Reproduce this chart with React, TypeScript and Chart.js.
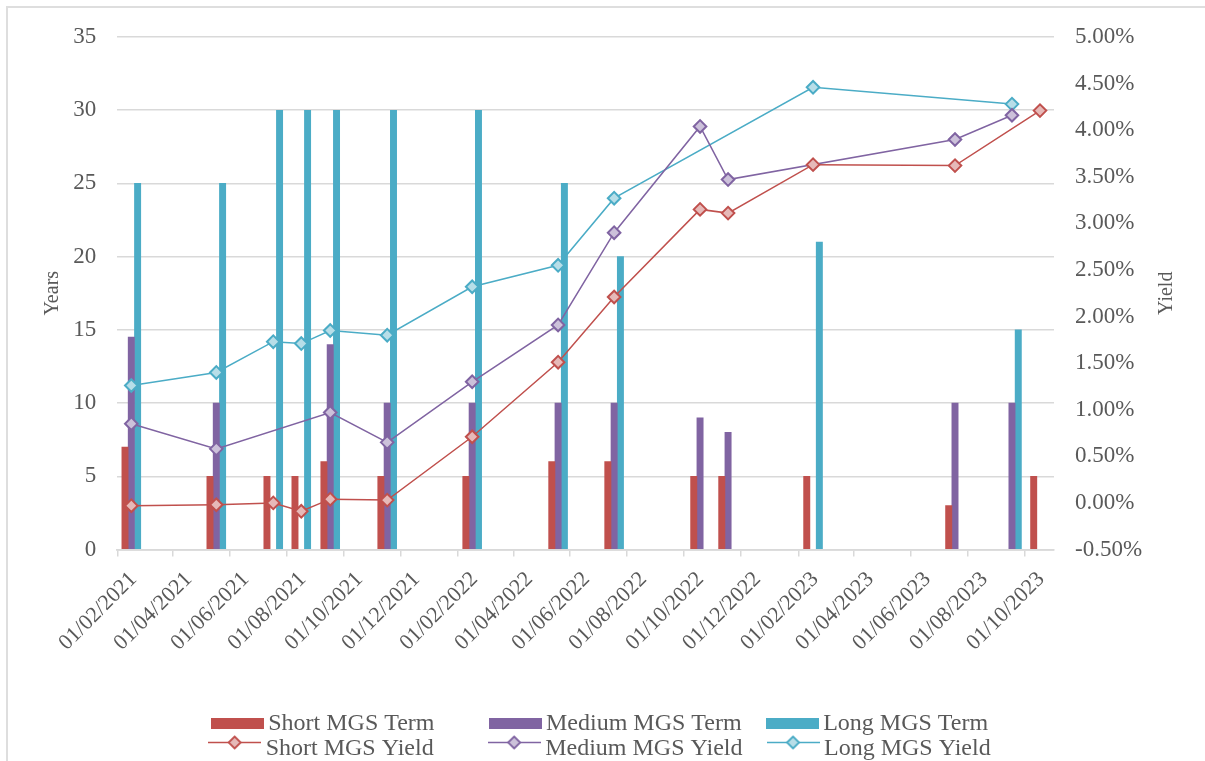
import React, { useEffect, useRef } from 'react';
import { Chart, registerables } from 'chart.js';

Chart.register(...registerables);

// ---------------- data ----------------
const auctionDates = [
  '2021-02-16', '2021-05-18', '2021-07-18', '2021-08-17', '2021-09-17',
  '2021-11-17', '2022-02-16', '2022-05-19', '2022-07-18', '2022-10-18',
  '2022-11-17', '2023-02-16', '2023-07-18', '2023-09-17', '2023-10-17',
];

// tenor in years
const shortTerm = [7, 5, 5, 5, 6, 5, 5, 6, 6, 5, 5, 5, 3, null, 5];
const mediumTerm = [14.5, 10, null, null, 14, 10, 10, 10, 10, 9, 8, null, 10, 10, null];
const longTerm = [25, 25, 30, 30, 30, 30, 30, 25, 20, null, null, 21, null, 15, null];

// yield in %
const shortYield = [-0.03, -0.02, 0.0, -0.09, 0.04, 0.03, 0.71, 1.51, 2.21, 3.15, 3.11, 3.63, 3.62, null, 4.21];
const mediumYield = [0.85, 0.58, null, null, 0.97, 0.65, 1.3, 1.91, 2.9, 4.04, 3.47, null, 3.9, 4.16, null];
const longYield = [1.26, 1.4, 1.73, 1.71, 1.85, 1.8, 2.32, 2.55, 3.27, null, null, 4.46, null, 4.28, null];

const xTickLabels = [
  '01/02/2021', '01/04/2021', '01/06/2021', '01/08/2021', '01/10/2021', '01/12/2021',
  '01/02/2022', '01/04/2022', '01/06/2022', '01/08/2022', '01/10/2022', '01/12/2022',
  '01/02/2023', '01/04/2023', '01/06/2023', '01/08/2023', '01/10/2023',
];
const xAxisStart = '01/02/2021';
const xAxisEnd = '01/11/2023';

const leftTitle = 'Years';
const rightTitle = 'Yield';
const seriesNames = [
  'Short MGS Term', 'Medium MGS Term', 'Long MGS Term',
  'Short MGS Yield', 'Medium MGS Yield', 'Long MGS Yield',
];

// ---------------- styles ----------------
const RED = '#C0504D';
const PURPLE = '#8064A2';
const TEAL = '#4BACC6';
const RED_L = '#E6B9B8';
const PURPLE_L = '#CCC1DA';
const TEAL_L = '#B7DEE8';
const GRID = '#D9D9D9';
const TEXT = '#595959';
const FONT = '"Liberation Serif", "Times New Roman", serif';

const DAY = 86400000;
const ORIGIN = Date.UTC(2021, 1, 1);
const isoDay = (s: string) => {
  const [y, m, d] = s.split('-').map(Number);
  return (Date.UTC(y, m - 1, d) - ORIGIN) / DAY;
};
const dmyDay = (s: string) => {
  const [d, m, y] = s.split('/').map(Number);
  return (Date.UTC(y, m - 1, d) - ORIGIN) / DAY;
};

const X_MIN = dmyDay(xAxisStart);
const X_MAX = dmyDay(xAxisEnd);
const tickDays = xTickLabels.map(dmyDay);
const LABEL_SHIFT = 17.4; // days the rotated labels sit right of the tick marks

const pts = (vals: (number | null)[]) =>
  auctionDates
    .map((d, i) => (vals[i] == null ? null : { x: isoDay(d), y: vals[i] as number }))
    .filter((p) => p !== null);

// legend geometry
const LEGEND_FONT = 24;
const LEGEND_PAD = 1.5;
const LEGEND_BOX = 38;
const LEGEND_X0 = 218.2;
const LEGEND_COL = 279.5;

function rectMarker(color: string) {
  const c = document.createElement('canvas');
  c.width = 53;
  c.height = 13;
  const g = c.getContext('2d')!;
  g.fillStyle = color;
  g.fillRect(0, 1, 53, 11);
  return c;
}

function lineMarker(color: string, fill: string) {
  const c = document.createElement('canvas');
  c.width = 53;
  c.height = 28;
  const g = c.getContext('2d')!;
  const cy = 7.5;
  g.strokeStyle = color;
  g.lineWidth = 1.5;
  g.beginPath();
  g.moveTo(0, cy);
  g.lineTo(53, cy);
  g.stroke();
  const r = 6;
  g.beginPath();
  g.moveTo(26.5 - r, cy);
  g.lineTo(26.5, cy - r);
  g.lineTo(26.5 + r, cy);
  g.lineTo(26.5, cy + r);
  g.closePath();
  g.fillStyle = fill;
  g.fill();
  g.lineWidth = 1.8;
  g.stroke();
  return c;
}

const legendShift = {
  id: 'legendShift',
  afterLayout(chart: any) {
    const lg = chart.legend;
    if (!lg || !lg.lineWidths) return;
    const cur = (lg.left + LEGEND_PAD + lg.right - lg.lineWidths[0]) / 2;
    const dx = LEGEND_X0 - cur;
    lg.left += dx;
    lg.right += dx;
  },
};

const rightTitlePlugin = {
  id: 'rightTitlePlugin',
  afterDraw(chart: any) {
    const { ctx, chartArea } = chart;
    ctx.save();
    ctx.translate(chartArea.right + 112.7, (chartArea.top + chartArea.bottom) / 2);
    ctx.rotate(-Math.PI / 2);
    ctx.font = `20px ${FONT}`;
    ctx.fillStyle = TEXT;
    ctx.textAlign = 'center';
    ctx.textBaseline = 'middle';
    ctx.fillText(rightTitle, 0, 0);
    ctx.restore();
  },
};

export default function App() {
  const ref = useRef<HTMLCanvasElement>(null);

  useEffect(() => {
    if (!ref.current) return;
    Chart.defaults.font.family = FONT;
    Chart.defaults.color = TEXT;

    const markers = [
      rectMarker(RED), rectMarker(PURPLE), rectMarker(TEAL),
      lineMarker(RED, RED_L), lineMarker(PURPLE, PURPLE_L), lineMarker(TEAL, TEAL_L),
    ];

    const barCommon = {
      type: 'bar' as const,
      xAxisID: 'x',
      yAxisID: 'y',
      barThickness: 6.3,
      borderWidth: 0,
      order: 1,
    };
    const lineCommon = {
      type: 'line' as const,
      xAxisID: 'x',
      yAxisID: 'y1',
      borderWidth: 1.5,
      pointStyle: 'rectRot',
      pointRadius: 6.3,
      pointBorderWidth: 2,
      spanGaps: true,
      tension: 0,
      fill: false,
      order: 0,
    };

    const chart = new Chart(ref.current, {
      type: 'bar',
      data: {
        datasets: [
          { ...barCommon, label: seriesNames[0], data: pts(shortTerm), backgroundColor: RED },
          { ...barCommon, label: seriesNames[1], data: pts(mediumTerm), backgroundColor: PURPLE },
          { ...barCommon, label: seriesNames[2], data: pts(longTerm), backgroundColor: TEAL },
          { ...lineCommon, label: seriesNames[3], data: pts(shortYield), borderColor: RED, backgroundColor: RED_L, pointBackgroundColor: RED_L, pointBorderColor: RED },
          { ...lineCommon, label: seriesNames[4], data: pts(mediumYield), borderColor: PURPLE, backgroundColor: PURPLE_L, pointBackgroundColor: PURPLE_L, pointBorderColor: PURPLE },
          { ...lineCommon, label: seriesNames[5], data: pts(longYield), borderColor: TEAL, backgroundColor: TEAL_L, pointBackgroundColor: TEAL_L, pointBorderColor: TEAL },
        ] as any,
      },
      options: {
        responsive: false,
        animation: false,
        devicePixelRatio: 1,
        layout: { padding: { top: 37, left: 0, right: 0, bottom: 0 } },
        plugins: {
          tooltip: { enabled: false },
          legend: {
            position: 'bottom',
            fullSize: false,
            align: 'center',
            labels: {
              usePointStyle: true,
              pointStyleWidth: LEGEND_BOX,
              padding: LEGEND_PAD,
              color: TEXT,
              font: { size: LEGEND_FONT, family: FONT },
              generateLabels: (chart: any) => {
                const ctx = chart.ctx;
                ctx.save();
                ctx.font = `${LEGEND_FONT}px ${FONT}`;
                const target = LEGEND_COL - LEGEND_BOX - LEGEND_FONT / 2 - LEGEND_PAD;
                const padTo = (t: string) => {
                  let s = t;
                  while (ctx.measureText(s + ' ').width <= target + 3) s += ' ';
                  return s;
                };
                const items = seriesNames.map((name, i) => ({
                  text: i % 3 === 2 ? name : padTo(name),
                  pointStyle: markers[i],
                  fillStyle: 'transparent',
                  strokeStyle: 'transparent',
                  lineWidth: 0,
                  hidden: false,
                  datasetIndex: i,
                  fontColor: TEXT,
                }));
                ctx.restore();
                return items;
              },
            },
          },
        },
        scales: {
          x: {
            type: 'linear',
            position: 'bottom',
            weight: 0,
            min: X_MIN,
            max: X_MAX,
            offset: false,
            afterBuildTicks: (s: any) => {
              s.ticks = tickDays.map((v) => ({ value: v }));
            },
            afterFit: (s: any) => {
              s.height = 7;
            },
            ticks: { display: false },
            grid: {
              offset: false,
              drawOnChartArea: false,
              drawTicks: true,
              tickLength: 7,
              color: GRID,
              lineWidth: 1.5,
            },
            border: { display: true, color: GRID, width: 1.8 },
          },
          xl: {
            type: 'linear',
            position: 'bottom',
            weight: 1,
            min: X_MIN - LABEL_SHIFT,
            max: X_MAX - LABEL_SHIFT,
            offset: false,
            afterBuildTicks: (s: any) => {
              s.ticks = tickDays.map((v) => ({ value: v }));
            },
            afterFit: (s: any) => {
              s.height = 153.5;
            },
            ticks: {
              autoSkip: false,
              minRotation: 45,
              maxRotation: 45,
              padding: 10,
              color: TEXT,
              font: { size: 22, family: FONT },
              callback: (_v: any, i: number) => xTickLabels[i],
            },
            grid: { display: false, drawTicks: false, offset: false },
            border: { display: false },
          },
          y: {
            type: 'linear',
            position: 'left',
            min: 0,
            max: 35,
            afterFit: (s: any) => {
              s.width = 117.3;
            },
            ticks: {
              stepSize: 5,
              padding: 21,
              color: TEXT,
              font: { size: 23, family: FONT },
            },
            grid: { color: GRID, lineWidth: 1.5, drawTicks: false },
            border: { display: false },
            title: {
              display: true,
              text: leftTitle,
              color: TEXT,
              font: { size: 20, family: FONT },
              padding: { top: 41, bottom: 0 },
            },
          },
          y1: {
            type: 'linear',
            position: 'right',
            min: -0.5,
            max: 5,
            afterFit: (s: any) => {
              s.width = 151;
            },
            ticks: {
              stepSize: 0.5,
              padding: 21,
              color: TEXT,
              font: { size: 23, family: FONT },
              callback: (v: any) => Number(v).toFixed(2) + '%',
            },
            grid: { display: false, drawTicks: false },
            border: { display: false },
          },
        },
      } as any,
      plugins: [legendShift, rightTitlePlugin],
    });
    return () => chart.destroy();
  }, []);

  return (
    <div
      style={{
        position: 'absolute',
        left: 0,
        top: 0,
        width: 1205,
        height: 761,
        overflow: 'hidden',
        background: '#ffffff',
      }}
    >
      <div
        style={{
          position: 'absolute',
          left: 6,
          top: 6,
          width: 1400,
          height: 1000,
          borderLeft: '2px solid #DEDEDE',
          borderTop: '2px solid #DEDEDE',
        }}
      />
      <canvas
        ref={ref}
        width={1205}
        height={771}
        style={{ position: 'absolute', left: 0, top: 0, width: 1205, height: 771 }}
      />
    </div>
  );
}
